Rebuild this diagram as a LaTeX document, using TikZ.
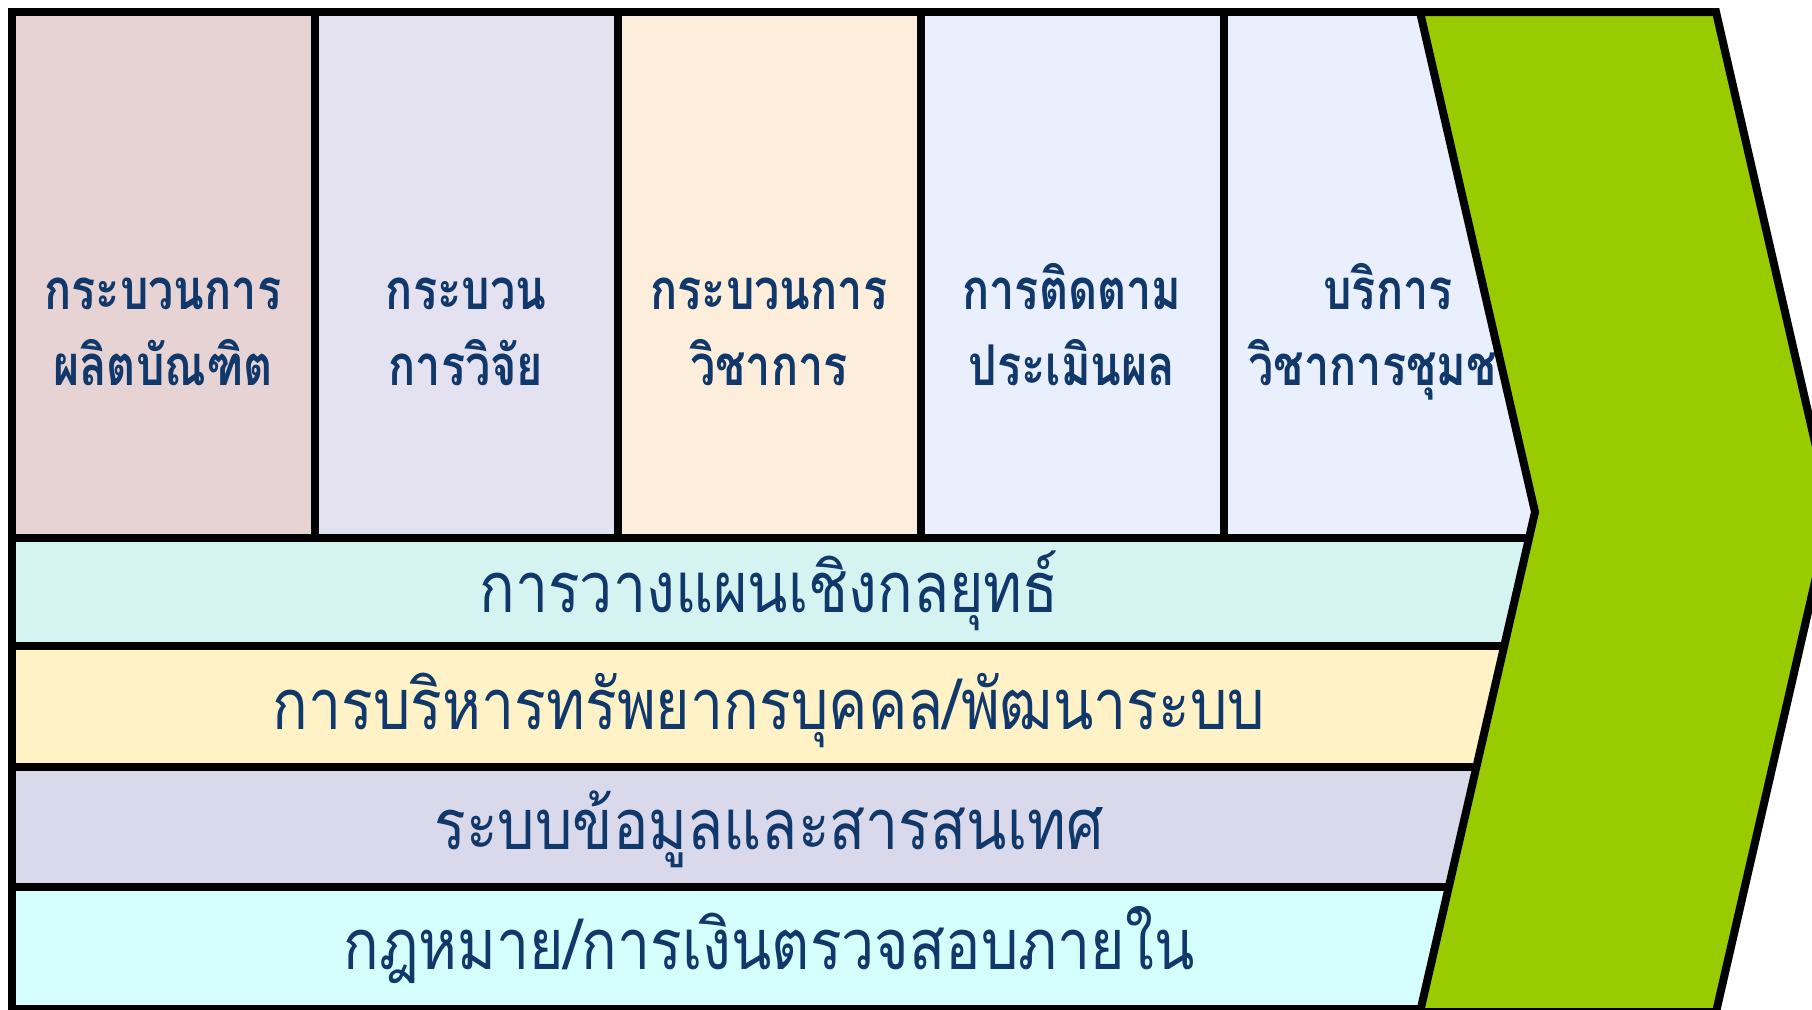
\documentclass[tikz,border=0pt]{standalone}
\usepackage{fontspec}
\newfontfamily\thaifont[Script=Thai,FakeStretch=0.8]{Loma}
\newfontfamily\thaiband[Script=Thai,FakeStretch=0.84]{Loma}
\definecolor{txtblue}{RGB}{16,56,106}
\definecolor{colA}{HTML}{E8D3D4}
\definecolor{colB}{HTML}{E4E2F0}
\definecolor{colC}{HTML}{FDEEDC}
\definecolor{colD}{HTML}{E9EFFD}
\definecolor{bandA}{HTML}{D5F3F1}
\definecolor{bandB}{HTML}{FFF2C7}
\definecolor{bandC}{HTML}{D9D9EB}
\definecolor{bandD}{HTML}{D4FFFD}
\definecolor{chevgreen}{HTML}{99CC00}

\begin{document}
\begin{tikzpicture}[x=0.1mm,y=-0.1mm,line width=0.8mm,line join=miter]

	\tikzset{col txt/.style={text=txtblue, align=center, anchor=base,
			font=\thaifont\bfseries\fontsize{16}{21.6}\selectfont},
		band txt/.style={text=txtblue, anchor=base,
			font=\thaiband\fontsize{20}{24}\selectfont}}

	\useasboundingbox (0,0) rectangle (1812,1009);

	% main processes
	\filldraw[fill=colA] (12,12) rectangle (315,538);
	\filldraw[fill=colB] (315,12) rectangle (618,538);
	\filldraw[fill=colC] (618,12) rectangle (921,538);
	\filldraw[fill=colD] (921,12) rectangle (1224,538);
	\filldraw[fill=colD] (1224,12) rectangle (1600,538);

	% support processes
	\filldraw[fill=bandA] (12,538) rectangle (1600,646);
	\filldraw[fill=bandB] (12,646) rectangle (1600,767);
	\filldraw[fill=bandC] (12,767) rectangle (1600,887);
	\filldraw[fill=bandD] (12,887) rectangle (1600,1009);

	\node[col txt] (P1) at (163,385) {กระบวนการ\\ผลิตบัณฑิต};
	\node[col txt] (P2) at (466,385) {กระบวน\\การวิจัย};
	\node[col txt] (P3) at (769,385) {กระบวนการ\\วิชาการ};
	\node[col txt] (P4) at (1072,385) {การติดตาม\\ประเมินผล};
	\node[col txt] (P5) at (1388,385) {บริการ\\วิชาการชุมชน};

	\node[band txt] (S1) at (769,612) {การวางแผนเชิงกลยุทธ์};
	\node[band txt] (S2) at (769,729) {การบริหารทรัพยากรบุคคล/พัฒนาระบบ};
	\node[band txt] (S3) at (769,849) {ระบบข้อมูลและสารสนเทศ};
	\node[band txt] (S4) at (769,969) {กฎหมาย/การเงินตรวจสอบภายใน};

	% output arrow
	\filldraw[fill=chevgreen] (1420,12) -- (1716,12) -- (1831,512)
		-- (1716,1012) -- (1420,1012) -- (1535,512) -- cycle;

\end{tikzpicture}
\end{document}
